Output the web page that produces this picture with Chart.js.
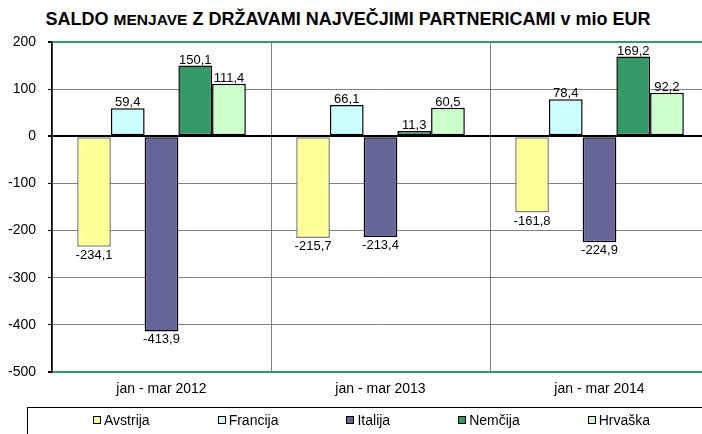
<!DOCTYPE html>
<html lang="sl">
<head>
<meta charset="UTF-8">
<title>Saldo menjave</title>
<script src="https://cdn.jsdelivr.net/npm/chart.js"></script>
<style>
  body { margin: 0; width: 702px; height: 434px; overflow: hidden; background: #fff; position: relative;
         font-family: "Liberation Sans", Arial, sans-serif; color: #000; }
  #naslov { position: absolute; top: 9px; left: 38px; width: 620px; text-align: center;
            font-weight: bold; font-size: 18px; white-space: nowrap; }
  #naslov span { font-size: 15.5px; }
  #graf { position: absolute; left: 0; top: 0; }
  #legenda { position: absolute; left: 27px; top: 407px; width: 720px; height: 40px; box-sizing: border-box;
             border: 1.5px solid #000; display: flex; align-items: flex-start; padding: 4px 0 0 65px; gap: 68px;
             font-size: 14px; line-height: 16px; }
  #legenda div { display: flex; align-items: center; }
  #legenda i { display: inline-block; width: 6px; height: 6px; border: 1.5px solid #000; margin-right: 3px; }
</style>
</head>
<body>
<div id="naslov">SALDO <span>MENJAVE</span> Z DRŽAVAMI NAJVEČJIMI PARTNERICAMI v mio EUR</div>
<canvas id="graf" width="712" height="434"></canvas>
<div id="legenda"></div>
<script>
  // obdobja in saldo po državah (mio EUR)
  const obdobja = ['jan - mar 2012', 'jan - mar 2013', 'jan - mar 2014'];
  const drzave = ['Avstrija', 'Francija', 'Italija', 'Nemčija', 'Hrvaška'];
  const avstrija = [-234.1, -215.7, -161.8];
  const francija = [59.4, 66.1, 78.4];
  const italija = [-413.9, -213.4, -224.9];
  const nemcija = [150.1, 11.3, 169.2];
  const hrvaska = [111.4, 60.5, 92.2];
  const barve = ['#FFFF99', '#CCFFFF', '#666699', '#339966', '#CCFFCC'];
  const robovi = ['#808080', '#000', '#000', '#000', '#000'];
  const yTicks = [200, 100, 0, -100, -200, -300, -400, -500];

  const vrednosti = [avstrija, francija, italija, nemcija, hrvaska];

  const oznake = {
    id: 'oznake',
    afterDatasetsDraw(chart) {
      const ctx = chart.ctx;
      ctx.save();
      ctx.font = '13px "Liberation Sans", Arial, sans-serif';
      ctx.fillStyle = '#000';
      ctx.textAlign = 'center';
      chart.data.datasets.forEach((ds, i) => {
        chart.getDatasetMeta(i).data.forEach((bar, j) => {
          const v = ds.data[j];
          const txt = v.toFixed(1).replace('.', ',');
          if (v >= 0) {
            ctx.textBaseline = 'bottom';
            ctx.fillText(txt, bar.x, bar.y + 1);
          } else {
            ctx.textBaseline = 'top';
            ctx.fillText(txt, bar.x, bar.y + 2);
          }
        });
      });
      ctx.restore();
    }
  };

  const data = {
    labels: obdobja,
    datasets: drzave.map((d, i) => ({
      label: d,
      data: vrednosti[i],
      backgroundColor: barve[i],
      borderColor: robovi[i],
      borderWidth: 1.5,
      borderSkipped: false,
      barPercentage: 1,
      categoryPercentage: 0.77
    }))
  };

  new Chart(document.getElementById('graf'), {
    type: 'bar',
    data: data,
    options: {
      responsive: false,
      animation: false,
      layout: { padding: { top: 42, right: 3, bottom: 32, left: 0 } },
      plugins: { legend: { display: false }, tooltip: { enabled: false } },
      scales: {
        x: {
          afterFit: s => { s.height = 30; },
          grid: { color: '#808080', drawTicks: false, offset: true },
          border: { color: '#339966', width: 2 },
          ticks: { color: '#000', padding: 9, font: { size: 14, family: '"Liberation Sans", Arial' } }
        },
        y: {
          min: -500, max: 200,
          afterFit: s => { s.width = 52; },
          afterBuildTicks: s => { s.ticks = yTicks.map(v => ({ value: v })); },
          grid: {
            color: c => c.tick.value === 0 ? '#000' : (c.tick.value === 200 || c.tick.value === -500 ? '#339966' : '#808080'),
            lineWidth: c => (c.tick.value === 200 || c.tick.value === -500 || c.tick.value === 0) ? 2 : 1,
            tickColor: '#000',
            tickLength: 4
          },
          border: { color: '#000', width: 1.5 },
          ticks: { color: '#000', padding: 12, font: { size: 14, family: '"Liberation Sans", Arial' } }
        }
      }
    },
    plugins: [oznake]
  });

  const legenda = document.getElementById('legenda');
  drzave.forEach((d, i) => {
    const el = document.createElement('div');
    const box = document.createElement('i');
    box.style.background = barve[i];
    el.appendChild(box);
    el.appendChild(document.createTextNode(d));
    legenda.appendChild(el);
  });
</script>
</body>
</html>
